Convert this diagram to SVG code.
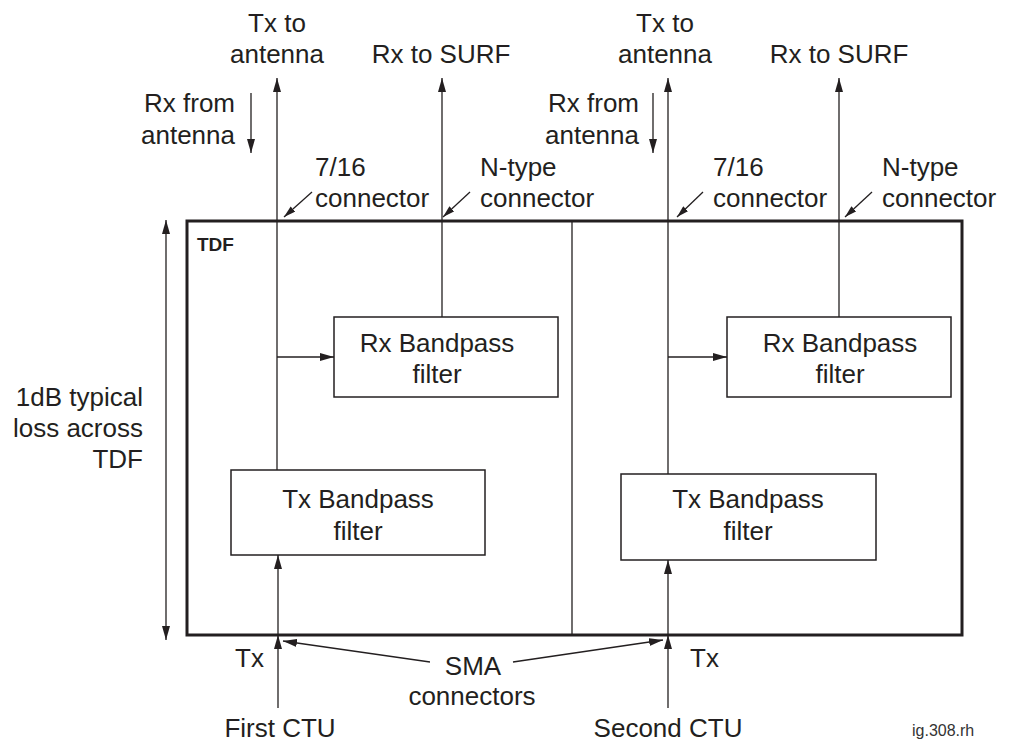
<svg xmlns="http://www.w3.org/2000/svg" width="1010" height="742" viewBox="0 0 1010 742">
<style>
text{font-family:"Liberation Sans",Arial,Helvetica,sans-serif;font-size:26px;fill:#231f20}
.m{text-anchor:middle}
.e{text-anchor:end}
.b{font-weight:bold;font-size:19px}
.sm{font-size:16px;fill:#333}
.ln{stroke:#231f20;stroke-width:1.3;fill:none}
.box{stroke:#231f20;stroke-width:1.5;fill:#fff}
.outer{stroke:#231f20;stroke-width:3;fill:none}
</style>
<defs>
<marker id="ah" markerUnits="userSpaceOnUse" markerWidth="14" markerHeight="8" refX="14" refY="4" orient="auto-start-reverse">
<path d="M0,0 L14,4 L0,8 z" fill="#231f20"/>
</marker>
<marker id="ahs" markerUnits="userSpaceOnUse" markerWidth="12" markerHeight="7" refX="12" refY="3.5" orient="auto">
<path d="M0,0 L12,3.5 L0,7 z" fill="#231f20"/>
</marker>
</defs>
<rect width="1010" height="742" fill="#fff"/>

<g id="tdf">
<rect class="outer" x="187" y="221" width="775" height="414"/>
<line class="ln" x1="572" y1="221" x2="572" y2="635"/>
<text class="b" x="197" y="251">TDF</text>
</g>

<g id="rx-filter-1">
<rect class="box" x="334" y="317" width="224" height="80"/>
<text class="m" x="437" y="352">Rx Bandpass</text>
<text class="m" x="437" y="383">filter</text>
</g>
<g id="tx-filter-1">
<rect class="box" x="231" y="470" width="254" height="85"/>
<text class="m" x="358" y="508">Tx Bandpass</text>
<text class="m" x="358" y="540">filter</text>
</g>
<g id="rx-filter-2">
<rect class="box" x="727" y="317" width="224" height="80"/>
<text class="m" x="840" y="352">Rx Bandpass</text>
<text class="m" x="840" y="383">filter</text>
</g>
<g id="tx-filter-2">
<rect class="box" x="621" y="474" width="255" height="86"/>
<text class="m" x="748" y="508">Tx Bandpass</text>
<text class="m" x="748" y="540">filter</text>
</g>

<g id="connectors">
<!-- left unit -->
<line class="ln" x1="277" y1="470" x2="277" y2="78" marker-end="url(#ah)"/>
<line class="ln" x1="442" y1="317" x2="442" y2="78" marker-end="url(#ah)"/>
<line class="ln" x1="277" y1="357" x2="334" y2="357" marker-end="url(#ah)"/>
<line class="ln" x1="251" y1="93" x2="251" y2="153" marker-end="url(#ah)"/>
<line class="ln" x1="312" y1="192" x2="284" y2="217" marker-end="url(#ahs)"/>
<line class="ln" x1="470" y1="192" x2="443" y2="217" marker-end="url(#ahs)"/>
<line class="ln" x1="278" y1="708" x2="278" y2="635" marker-end="url(#ah)"/>
<line class="ln" x1="278" y1="635" x2="278" y2="555" marker-end="url(#ah)"/>
<!-- right unit -->
<line class="ln" x1="668" y1="474" x2="668" y2="78" marker-end="url(#ah)"/>
<line class="ln" x1="839" y1="317" x2="839" y2="78" marker-end="url(#ah)"/>
<line class="ln" x1="668" y1="357" x2="727" y2="357" marker-end="url(#ah)"/>
<line class="ln" x1="653" y1="93" x2="653" y2="153" marker-end="url(#ah)"/>
<line class="ln" x1="703" y1="192" x2="677" y2="217" marker-end="url(#ahs)"/>
<line class="ln" x1="872" y1="192" x2="845" y2="217" marker-end="url(#ahs)"/>
<line class="ln" x1="668" y1="708" x2="668" y2="635" marker-end="url(#ah)"/>
<line class="ln" x1="668" y1="635" x2="668" y2="560" marker-end="url(#ah)"/>
<!-- SMA pointers -->
<line class="ln" x1="430" y1="662" x2="283" y2="641" marker-end="url(#ah)"/>
<line class="ln" x1="513" y1="662" x2="663" y2="640" marker-end="url(#ah)"/>
<!-- loss dimension -->
<line class="ln" x1="166" y1="220" x2="166" y2="640" marker-start="url(#ah)" marker-end="url(#ah)"/>
</g>

<g id="labels">
<text class="m" x="277" y="32">Tx to</text>
<text class="m" x="277" y="63">antenna</text>
<text class="m" x="441" y="63">Rx to SURF</text>
<text class="e" x="235" y="112">Rx from</text>
<text class="e" x="235" y="144">antenna</text>
<text x="315" y="176">7/16</text>
<text x="315" y="207">connector</text>
<text x="480" y="176">N-type</text>
<text x="480" y="207">connector</text>

<text class="m" x="665" y="32">Tx to</text>
<text class="m" x="665" y="63">antenna</text>
<text class="m" x="839" y="63">Rx to SURF</text>
<text class="e" x="639" y="112">Rx from</text>
<text class="e" x="639" y="144">antenna</text>
<text x="713" y="176">7/16</text>
<text x="713" y="207">connector</text>
<text x="882" y="176">N-type</text>
<text x="882" y="207">connector</text>

<text class="e" x="143" y="406">1dB typical</text>
<text class="e" x="143" y="437">loss across</text>
<text class="e" x="143" y="468">TDF</text>

<text x="235" y="667">Tx</text>
<text x="690" y="667">Tx</text>
<text class="m" x="473" y="675">SMA</text>
<text class="m" x="472" y="705">connectors</text>
<text class="m" x="280" y="737">First CTU</text>
<text class="m" x="668" y="737">Second CTU</text>
<text class="sm" x="912" y="736">ig.308.rh</text>
</g>
</svg>
